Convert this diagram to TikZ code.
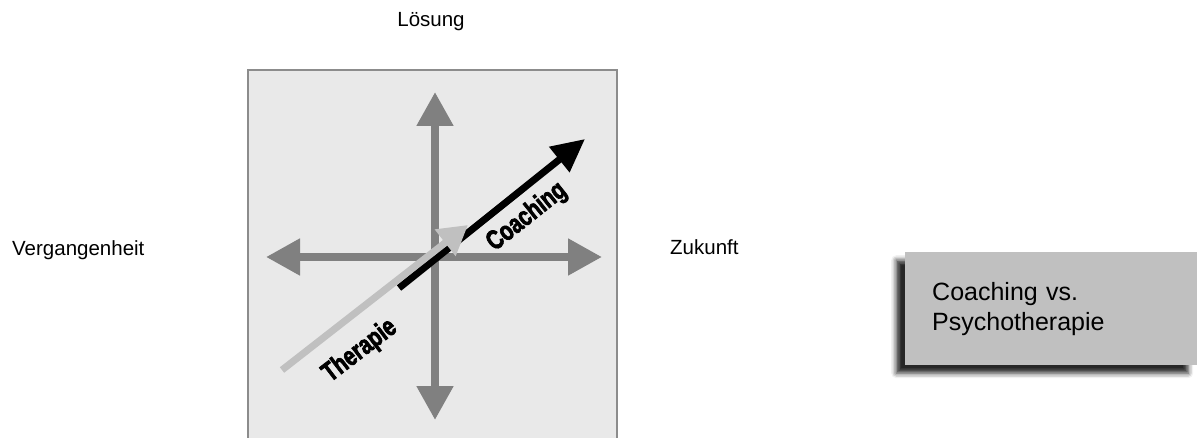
\documentclass[tikz,border=0pt]{standalone}
\usepackage{fontspec}
\setmainfont{Liberation Sans}
\newfontfamily\heavyfont[BoldFeatures={FakeBold=3}]{Liberation Sans}
\usepackage{tikz}
\usetikzlibrary{arrows.meta, positioning, calc, shadows.blur}
\definecolor{axisgray}{HTML}{808080}
\definecolor{panelgray}{HTML}{E9E9E9}
\definecolor{framegray}{HTML}{8C8C8C}
\definecolor{therapygray}{HTML}{C0C0C0}
\definecolor{titlegray}{HTML}{C0C0C0}

\begin{document}
\begin{tikzpicture}[x=1pt, y=-1pt,
        axis/.style={draw=axisgray, line width=8pt, {Triangle[length=34pt,width=35pt]}-{Triangle[length=34pt,width=35pt]}},
        coacharrow/.style={draw=black, line width=7pt, -{Triangle[length=33pt,width=31pt]}},
        therapyarrow/.style={draw=therapygray, line width=7pt, -{Triangle[length=29pt,width=32pt]}},
        heavylabel/.style={font=\heavyfont\bfseries\fontsize{27}{30}\selectfont, xscale=0.76, inner sep=0pt},
        sidelabel/.style={font=\fontsize{20.5}{24}\selectfont, inner sep=0pt},
        titlebox/.style={fill=titlegray, inner xsep=27pt, text width=238pt, minimum height=113pt, align=left,
            font=\fontsize{25}{30}\selectfont,
            blur shadow={shadow xshift=-9pt, shadow yshift=-8pt, shadow blur radius=5pt, shadow opacity=85}}]
    \useasboundingbox (0,0) rectangle (1197,438);

    \draw[draw=framegray, fill=panelgray, line width=2.5pt] (248,70) rectangle (617,470);

    \coordinate (west) at (266,257);
    \coordinate (east) at (602,257);
    \coordinate (north) at (435,92);
    \coordinate (south) at (435,420);
    \draw[axis] (west) -- (east);
    \draw[axis] (north) -- (south);

    \coordinate (coachstart) at (399,288);
    \coordinate (coachtip) at (585,139);
    \coordinate (therapystart) at (282,370);
    \coordinate (therapytip) at (468,225);
    \draw[coacharrow] (coachstart) -- (coachtip);
    \draw[therapyarrow] (therapystart) -- (therapytip);

    \node[rotate=38.5, heavylabel] (coaching) at (527,217) {Coaching};
    \node[rotate=37.5, heavylabel] (therapie) at (360,351) {Therapie};

    \node[sidelabel, anchor=base] (loesung) at (431,27) {Lösung};
    \node[sidelabel, anchor=base west] (vergangenheit) at (12,256) {Vergangenheit};
    \node[sidelabel, anchor=base west] (zukunft) at (670,255) {Zukunft};

    \node[titlebox, anchor=north west] (title) at (905,252) {Coaching vs.\\Psychotherapie};
\end{tikzpicture}
\end{document}
